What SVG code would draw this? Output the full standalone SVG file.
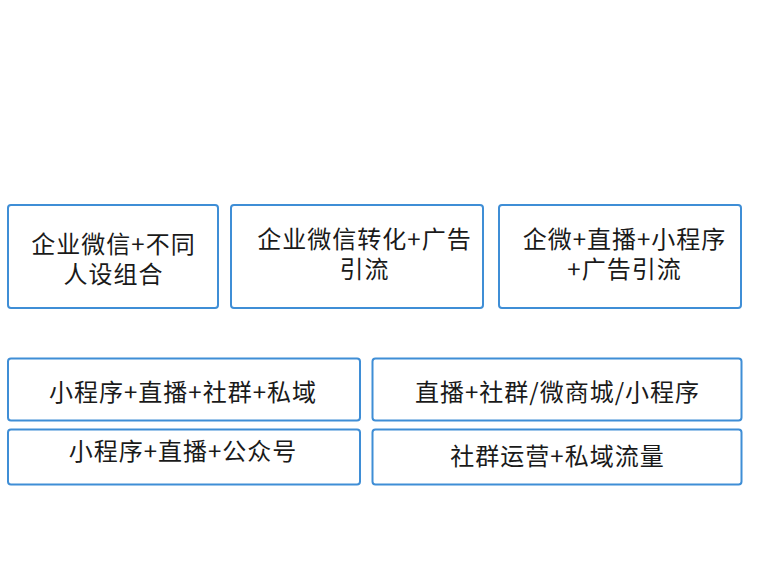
<svg xmlns="http://www.w3.org/2000/svg" width="772" height="585" viewBox="0 0 772 585">
<style>
.box{fill:#fff;stroke:#3f8ed6;stroke-width:2}
.t{font-family:"Noto Sans CJK SC","Noto Sans",sans-serif;font-size:24px;letter-spacing:1px;fill:#1a1a1a;text-anchor:middle}
</style>
<rect width="772" height="585" fill="#fff"/>
<g id="connectors"></g>
<g id="n1"><rect class="box" x="8" y="205" width="210" height="103" rx="3"/>
<text class="t"><tspan x="113.5" y="253">企业微信+不同</tspan><tspan x="113.5" y="283">人设组合</tspan></text></g>
<g id="n2"><rect class="box" x="231" y="205" width="252" height="103" rx="3"/>
<text class="t"><tspan x="364.5" y="248">企业微信转化+广告</tspan><tspan x="364.5" y="278">引流</tspan></text></g>
<g id="n3"><rect class="box" x="499" y="205" width="242" height="103" rx="3"/>
<text class="t"><tspan x="624.5" y="248">企微+直播+小程序</tspan><tspan x="624.5" y="278">+广告引流</tspan></text></g>
<g id="n4"><rect class="box" x="8" y="358.5" width="352" height="62" rx="3"/>
<text class="t" x="183" y="401">小程序+直播+社群+私域</text></g>
<g id="n5"><rect class="box" x="372.5" y="358.5" width="369" height="62" rx="3"/>
<text class="t" x="557.5" y="401">直播+社群/微商城/小程序</text></g>
<g id="n6"><rect class="box" x="8" y="429.5" width="352" height="55" rx="3"/>
<text class="t" x="183" y="459.5">小程序+直播+公众号</text></g>
<g id="n7"><rect class="box" x="372.5" y="429.5" width="369" height="55" rx="3"/>
<text class="t" x="557.5" y="465">社群运营+私域流量</text></g>
</svg>
